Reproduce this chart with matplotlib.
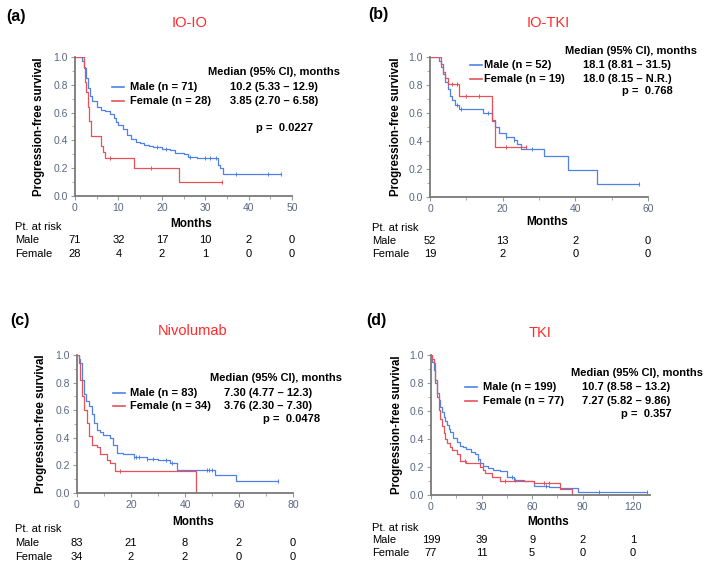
"""Kaplan-Meier PFS by sex, four treatment groups, 2x2 panel figure with risk tables."""
import matplotlib
matplotlib.use("Agg")
import matplotlib.pyplot as plt
from matplotlib.ticker import MultipleLocator

plt.rcParams["font.family"] = ["Liberation Sans", "DejaVu Sans"]

W, H = 708, 566
BLUE = "#4f82e6"
RED = "#e8505a"
TICK = "#5c6680"

# ---- data (months, survival) ----
a_male_t = [0, 1.5, 2, 2.5, 3, 3.5, 4, 5, 6, 7, 8, 9, 9.5, 10, 11, 12, 13, 14, 15, 16, 17, 18,
            20, 22, 23, 25, 26, 28, 33, 33.5, 34, 47.5]
a_male_s = [1.0, 0.97, 0.92, 0.85, 0.78, 0.72, 0.68, 0.64, 0.62, 0.61, 0.59, 0.56, 0.53, 0.51,
            0.48, 0.44, 0.41, 0.39, 0.38, 0.37, 0.36, 0.35, 0.34, 0.33, 0.31, 0.30, 0.28, 0.27,
            0.22, 0.20, 0.16, 0.16]
a_male_cens = [19, 21, 26.5, 30, 31, 32.5, 37, 44.5, 47.5]
a_fem_t = [0, 2, 2.3, 2.6, 3, 3.3, 3.6, 6, 6.5, 7, 13.5, 24, 33.8]
a_fem_s = [1.0, 0.93, 0.82, 0.75, 0.64, 0.54, 0.43, 0.36, 0.32, 0.27, 0.20, 0.10, 0.10]
a_fem_cens = [8, 17.5, 33.8]

b_male_t = [0, 2.5, 3, 3.5, 4, 5, 5.5, 6, 7, 8, 9, 14.5, 17, 18, 19, 21, 23, 24, 25, 31.5, 38,
            46, 57.5]
b_male_s = [1.0, 0.97, 0.93, 0.88, 0.82, 0.77, 0.72, 0.69, 0.66, 0.63, 0.63, 0.60, 0.55, 0.50,
            0.46, 0.43, 0.41, 0.38, 0.34, 0.29, 0.19, 0.095, 0.095]
b_male_cens = [7.5, 8.5, 16, 21, 23, 28, 57.5]
b_fem_t = [0, 3, 3.5, 4, 5, 8, 17, 18, 26.5]
b_fem_s = [1.0, 0.95, 0.89, 0.85, 0.81, 0.72, 0.54, 0.36, 0.36]
b_fem_cens = [6, 7.5, 10, 13.5, 21, 26.5]

c_male_t = [0, 0.6, 1.2, 1.8, 2.5, 3.4, 4.3, 5.5, 6.4, 7.4, 8.5, 9.8, 12.3, 13.5, 14.8, 17, 21,
            26, 30, 34.5, 37, 51, 59, 74.5]
c_male_s = [1.0, 0.97, 0.94, 0.82, 0.72, 0.67, 0.63, 0.57, 0.51, 0.46, 0.44, 0.42, 0.40, 0.35,
            0.29, 0.28, 0.26, 0.25, 0.24, 0.22, 0.17, 0.13, 0.085, 0.085]
c_male_cens = [21, 22, 23, 26, 28, 33, 35, 48, 49, 50, 74.5]
c_fem_t = [0, 0.6, 1.2, 1.8, 2.7, 3.7, 4.3, 5.5, 7.4, 8.6, 11.1, 12.3, 14.2, 44]
c_fem_s = [1.0, 0.94, 0.82, 0.70, 0.60, 0.51, 0.41, 0.35, 0.33, 0.28, 0.24, 0.22, 0.16, 0.0]
c_fem_cens = [16]

d_male_t = [0, 0.8, 1.6, 2.5, 3.5, 4.5, 5.5, 6.5, 7.5, 8.5, 9.5, 10.5, 11.4, 13, 15.4, 17.4,
            19, 21, 24, 26, 28, 29, 31, 34, 37, 41, 45, 49, 55, 61, 70, 76.5, 87, 128]
d_male_s = [1.0, 0.95, 0.89, 0.80, 0.73, 0.68, 0.63, 0.59, 0.56, 0.53, 0.50, 0.47, 0.45, 0.41,
            0.38, 0.35, 0.34, 0.33, 0.31, 0.29, 0.26, 0.23, 0.21, 0.19, 0.18, 0.17, 0.13, 0.11,
            0.10, 0.067, 0.055, 0.048, 0.024, 0.024]
d_male_cens = [28, 48, 50, 68, 100, 128]
d_fem_t = [0, 0.8, 1.6, 2.5, 3.5, 4.5, 5.5, 6.5, 7.5, 8.5, 9.5, 11, 12.4, 15.4, 17.4, 21, 29,
           31, 32, 36, 41, 61, 76.5, 83.5]
d_fem_s = [1.0, 0.97, 0.94, 0.82, 0.70, 0.61, 0.54, 0.49, 0.44, 0.40, 0.37, 0.34, 0.32, 0.29,
           0.24, 0.23, 0.20, 0.18, 0.16, 0.13, 0.10, 0.088, 0.043, 0.0]
d_fem_cens = [20, 44, 67, 70]

titles = ["IO-IO", "IO-TKI", "Nivolumab", "TKI"]
letters = ["(a)", "(b)", "(c)", "(d)"]
n_male = [71, 52, 83, 199]
n_female = [28, 19, 34, 77]
med_male = ["10.2 (5.33 \u2013 12.9)", "18.1 (8.81 \u2013 31.5)", "7.30 (4.77 \u2013 12.3)",
            "10.7 (8.58 \u2013 13.2)"]
med_female = ["3.85 (2.70 \u2013 6.58)", "18.0 (8.15 \u2013 N.R.)", "3.76 (2.30 \u2013 7.30)",
              "7.27 (5.82 \u2013 9.86)"]
p_values = ["0.0227", "0.768", "0.0478", "0.357"]
xmax = [50, 60, 80, 130]
xstep = [10, 20, 20, 30]
risk_times = [[0, 10, 20, 30, 40, 50], [0, 20, 40, 60], [0, 20, 40, 60, 80],
              [0, 30, 60, 90, 120]]
risk_male = [[71, 32, 17, 10, 2, 0], [52, 13, 2, 0], [83, 21, 8, 2, 0], [199, 39, 9, 2, 1]]
risk_female = [[28, 4, 2, 1, 0, 0], [19, 2, 0, 0], [34, 2, 2, 0, 0], [77, 11, 5, 0, 0]]

curves = [
    (a_male_t, a_male_s, a_male_cens, a_fem_t, a_fem_s, a_fem_cens),
    (b_male_t, b_male_s, b_male_cens, b_fem_t, b_fem_s, b_fem_cens),
    (c_male_t, c_male_s, c_male_cens, c_fem_t, c_fem_s, c_fem_cens),
    (d_male_t, d_male_s, d_male_cens, d_fem_t, d_fem_s, d_fem_cens),
]

# ---- layout in pixels: axes box (left, top, right, bottom) ----
boxes = [(75, 57, 292, 196), (430, 57, 648, 197), (77, 355, 293, 493), (431, 355, 650, 495)]
layout = [
    dict(letter=(6, 17), title=(190, 23), head=72, male=87, fem=101, p=128, lx=112, tx=130,
         vx=230, hx=340, months=224, pt=227, rm=240, rf=254, px=313, rx=15),
    dict(letter=(368, 15), title=(548, 23), head=51, male=65, fem=79, p=91, lx=470, tx=484,
         vx=583, hx=697, months=222, pt=228, rm=241, rf=254, px=673, rx=372),
    dict(letter=(10, 320), title=(193, 331), head=378, male=393, fem=406, p=419, lx=113,
         tx=130, vx=224, hx=342, months=522, pt=529, rm=543, rf=557, px=320, rx=15),
    dict(letter=(366, 320), title=(540, 333), head=373, male=387, fem=401, p=414, lx=465,
         tx=483, vx=582, hx=703, months=522, pt=528, rm=540, rf=553, px=672, rx=372),
]
FS = 8


def fx(x):
    return x / W


def fy(y):
    return 1 - y / H


def surv_at(times, surv, x):
    v = surv[0]
    for tt, ss in zip(times, surv):
        if tt <= x:
            v = ss
    return v


fig = plt.figure(figsize=(W / 100, H / 100), dpi=100)

for i in range(4):
    l, t, r, b = boxes[i]
    L = layout[i]
    ax = fig.add_axes([fx(l), fy(b), (r - l) / W, (b - t) / H])
    mt, ms, mc, ft, fs, fc = curves[i]
    ax.step(mt, ms, where="post", color=BLUE, lw=0.9)
    ax.step(ft, fs, where="post", color=RED, lw=0.9)
    ax.plot(mc, [surv_at(mt, ms, c) for c in mc], ls="none", marker="|", ms=3,
            mew=0.7, color=BLUE)
    ax.plot(fc, [surv_at(ft, fs, c) for c in fc], ls="none", marker="|", ms=3,
            mew=0.7, color=RED)

    ax.set_xlim(0, xmax[i])
    ax.set_ylim(0, 1.0)
    ax.xaxis.set_major_locator(MultipleLocator(xstep[i]))
    ax.xaxis.set_minor_locator(MultipleLocator(xstep[i] / 2))
    ax.yaxis.set_major_locator(MultipleLocator(0.2))
    ax.yaxis.set_minor_locator(MultipleLocator(0.1))
    ax.yaxis.set_major_formatter(plt.FormatStrFormatter("%.1f"))
    for s in ("top", "right"):
        ax.spines[s].set_visible(False)
    for s in ("left", "bottom"):
        ax.spines[s].set_color("#7a7a7a")
        ax.spines[s].set_linewidth(1.3)
    ax.tick_params(which="both", color="#9a9a9a", labelcolor=TICK, labelsize=7.5,
                   direction="out", pad=2)
    ax.tick_params(which="major", length=3)
    ax.tick_params(which="minor", length=2)
    ax.set_ylabel("Progression-free survival", fontsize=8.3, fontweight="bold",
                  labelpad=6 if i % 2 == 0 else 5)

    # panel letter and title
    fig.text(fx(L["letter"][0]), fy(L["letter"][1]), letters[i], fontsize=11.5,
             fontweight="bold", va="center", ha="left")
    fig.text(fx(L["title"][0]), fy(L["title"][1]), titles[i], fontsize=10.5, color="#ff2a2a",
             va="center", ha="center")

    # legend / medians
    fig.text(fx(L["hx"]), fy(L["head"]), "Median (95% CI), months", fontsize=FS,
             fontweight="bold", ha="right", va="center")
    for yk, col, lab, med in (("male", BLUE, f"Male (n = {n_male[i]})", med_male[i]),
                              ("fem", RED, f"Female (n = {n_female[i]})", med_female[i])):
        fig.add_artist(plt.Line2D([fx(L["lx"]), fx(L["lx"] + 12)], [fy(L[yk]), fy(L[yk])],
                                  color=col, lw=1.2))
        fig.text(fx(L["tx"]), fy(L[yk]), lab, fontsize=FS, fontweight="bold", va="center")
        fig.text(fx(L["vx"]), fy(L[yk]), med, fontsize=FS, fontweight="bold", va="center")
    fig.text(fx(L["px"]), fy(L["p"]), f"p =  {p_values[i]}", fontsize=FS, fontweight="bold",
             ha="right", va="center")

    # x label and risk table
    fig.text(fx((l + r) / 2 + 8), fy(L["months"]), "Months", fontsize=8.5, fontweight="bold",
             ha="center", va="center")
    fig.text(fx(L["rx"]), fy(L["pt"]), "Pt. at risk", fontsize=FS, va="center")
    fig.text(fx(L["rx"]), fy(L["rm"]), "Male", fontsize=FS, va="center")
    fig.text(fx(L["rx"]), fy(L["rf"]), "Female", fontsize=FS, va="center")
    to_fig = ax.transData + fig.transFigure.inverted()
    for tm, nm, nf in zip(risk_times[i], risk_male[i], risk_female[i]):
        xf = to_fig.transform((tm, 0))[0]
        fig.text(xf, fy(L["rm"]), str(nm), fontsize=FS, ha="center", va="center")
        fig.text(xf, fy(L["rf"]), str(nf), fontsize=FS, ha="center", va="center")

fig.savefig("out.png", dpi=100)
